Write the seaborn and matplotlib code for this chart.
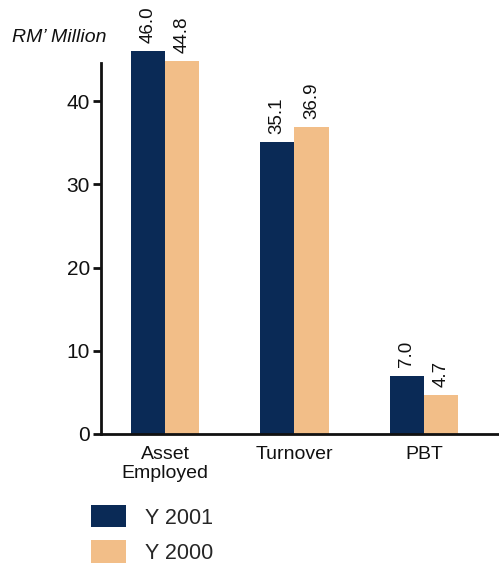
import matplotlib
matplotlib.use("Agg")
import matplotlib.pyplot as plt
from matplotlib.patches import Patch
import seaborn as sns
import pandas as pd

categories = ["Asset\nEmployed", "Turnover", "PBT"]
years = ["Y 2001", "Y 2000"]
values_2001 = [46.0, 35.1, 7.0]
values_2000 = [44.8, 36.9, 4.7]
y_ticks = [0, 10, 20, 30, 40]
colors = ["#0A2A56", "#F2BE88"]

df = pd.DataFrame({
    "category": categories * 2,
    "year": [years[0]] * 3 + [years[1]] * 3,
    "value": values_2001 + values_2000,
})

sns.set_style("white")
plt.rcParams["font.family"] = ["Liberation Sans", "DejaVu Sans"]

fig = plt.figure(figsize=(4.99, 5.64), dpi=100)
ax = fig.add_axes([0.2024, 0.2305, 0.7976, 0.6578])

sns.barplot(data=df, x="category", y="value", hue="year", order=categories,
            hue_order=years, palette=colors, width=0.53, gap=0,
            saturation=1, ax=ax, legend=False, linewidth=0)

for container in ax.containers:
    for bar in container:
        bar.set_clip_on(False)
    texts = ax.bar_label(container, fmt="%.1f", rotation=90, padding=6,
                         fontsize=13.5, color="#111111")
    for t in texts:
        t.set_clip_on(False)
        t.set_annotation_clip(False)

ax.set_xlim(-0.494, 2.58)
ax.set_ylim(0, 44.6)
ax.set_yticks(y_ticks)
ax.set_xlabel("")
ax.set_ylabel("")
ax.tick_params(axis="y", direction="out", length=6, width=2, labelsize=15,
               left=True, pad=2, colors="#111111")
ax.tick_params(axis="x", length=0, labelsize=14, pad=9, colors="#111111")
for s in ["top", "right"]:
    ax.spines[s].set_visible(False)
for s in ["left", "bottom"]:
    ax.spines[s].set_linewidth(2)
    ax.spines[s].set_color("#111111")
for lbl in ax.get_xticklabels():
    lbl.set_linespacing(1.15)

fig.text(0.024, 0.933, "RM\u2019 Million", fontsize=14, style="italic",
         color="#111111", va="center", ha="left")

handles = [Patch(facecolor=c, edgecolor="none") for c in colors]
fig.legend(handles, years, loc="upper left", bbox_to_anchor=(0.182, 0.104),
           frameon=False, fontsize=15.5, handlelength=1.65, handleheight=1.2,
           handletextpad=0.85, labelspacing=0.55, borderaxespad=0,
           borderpad=0)

fig.savefig("out.png", dpi=100)
